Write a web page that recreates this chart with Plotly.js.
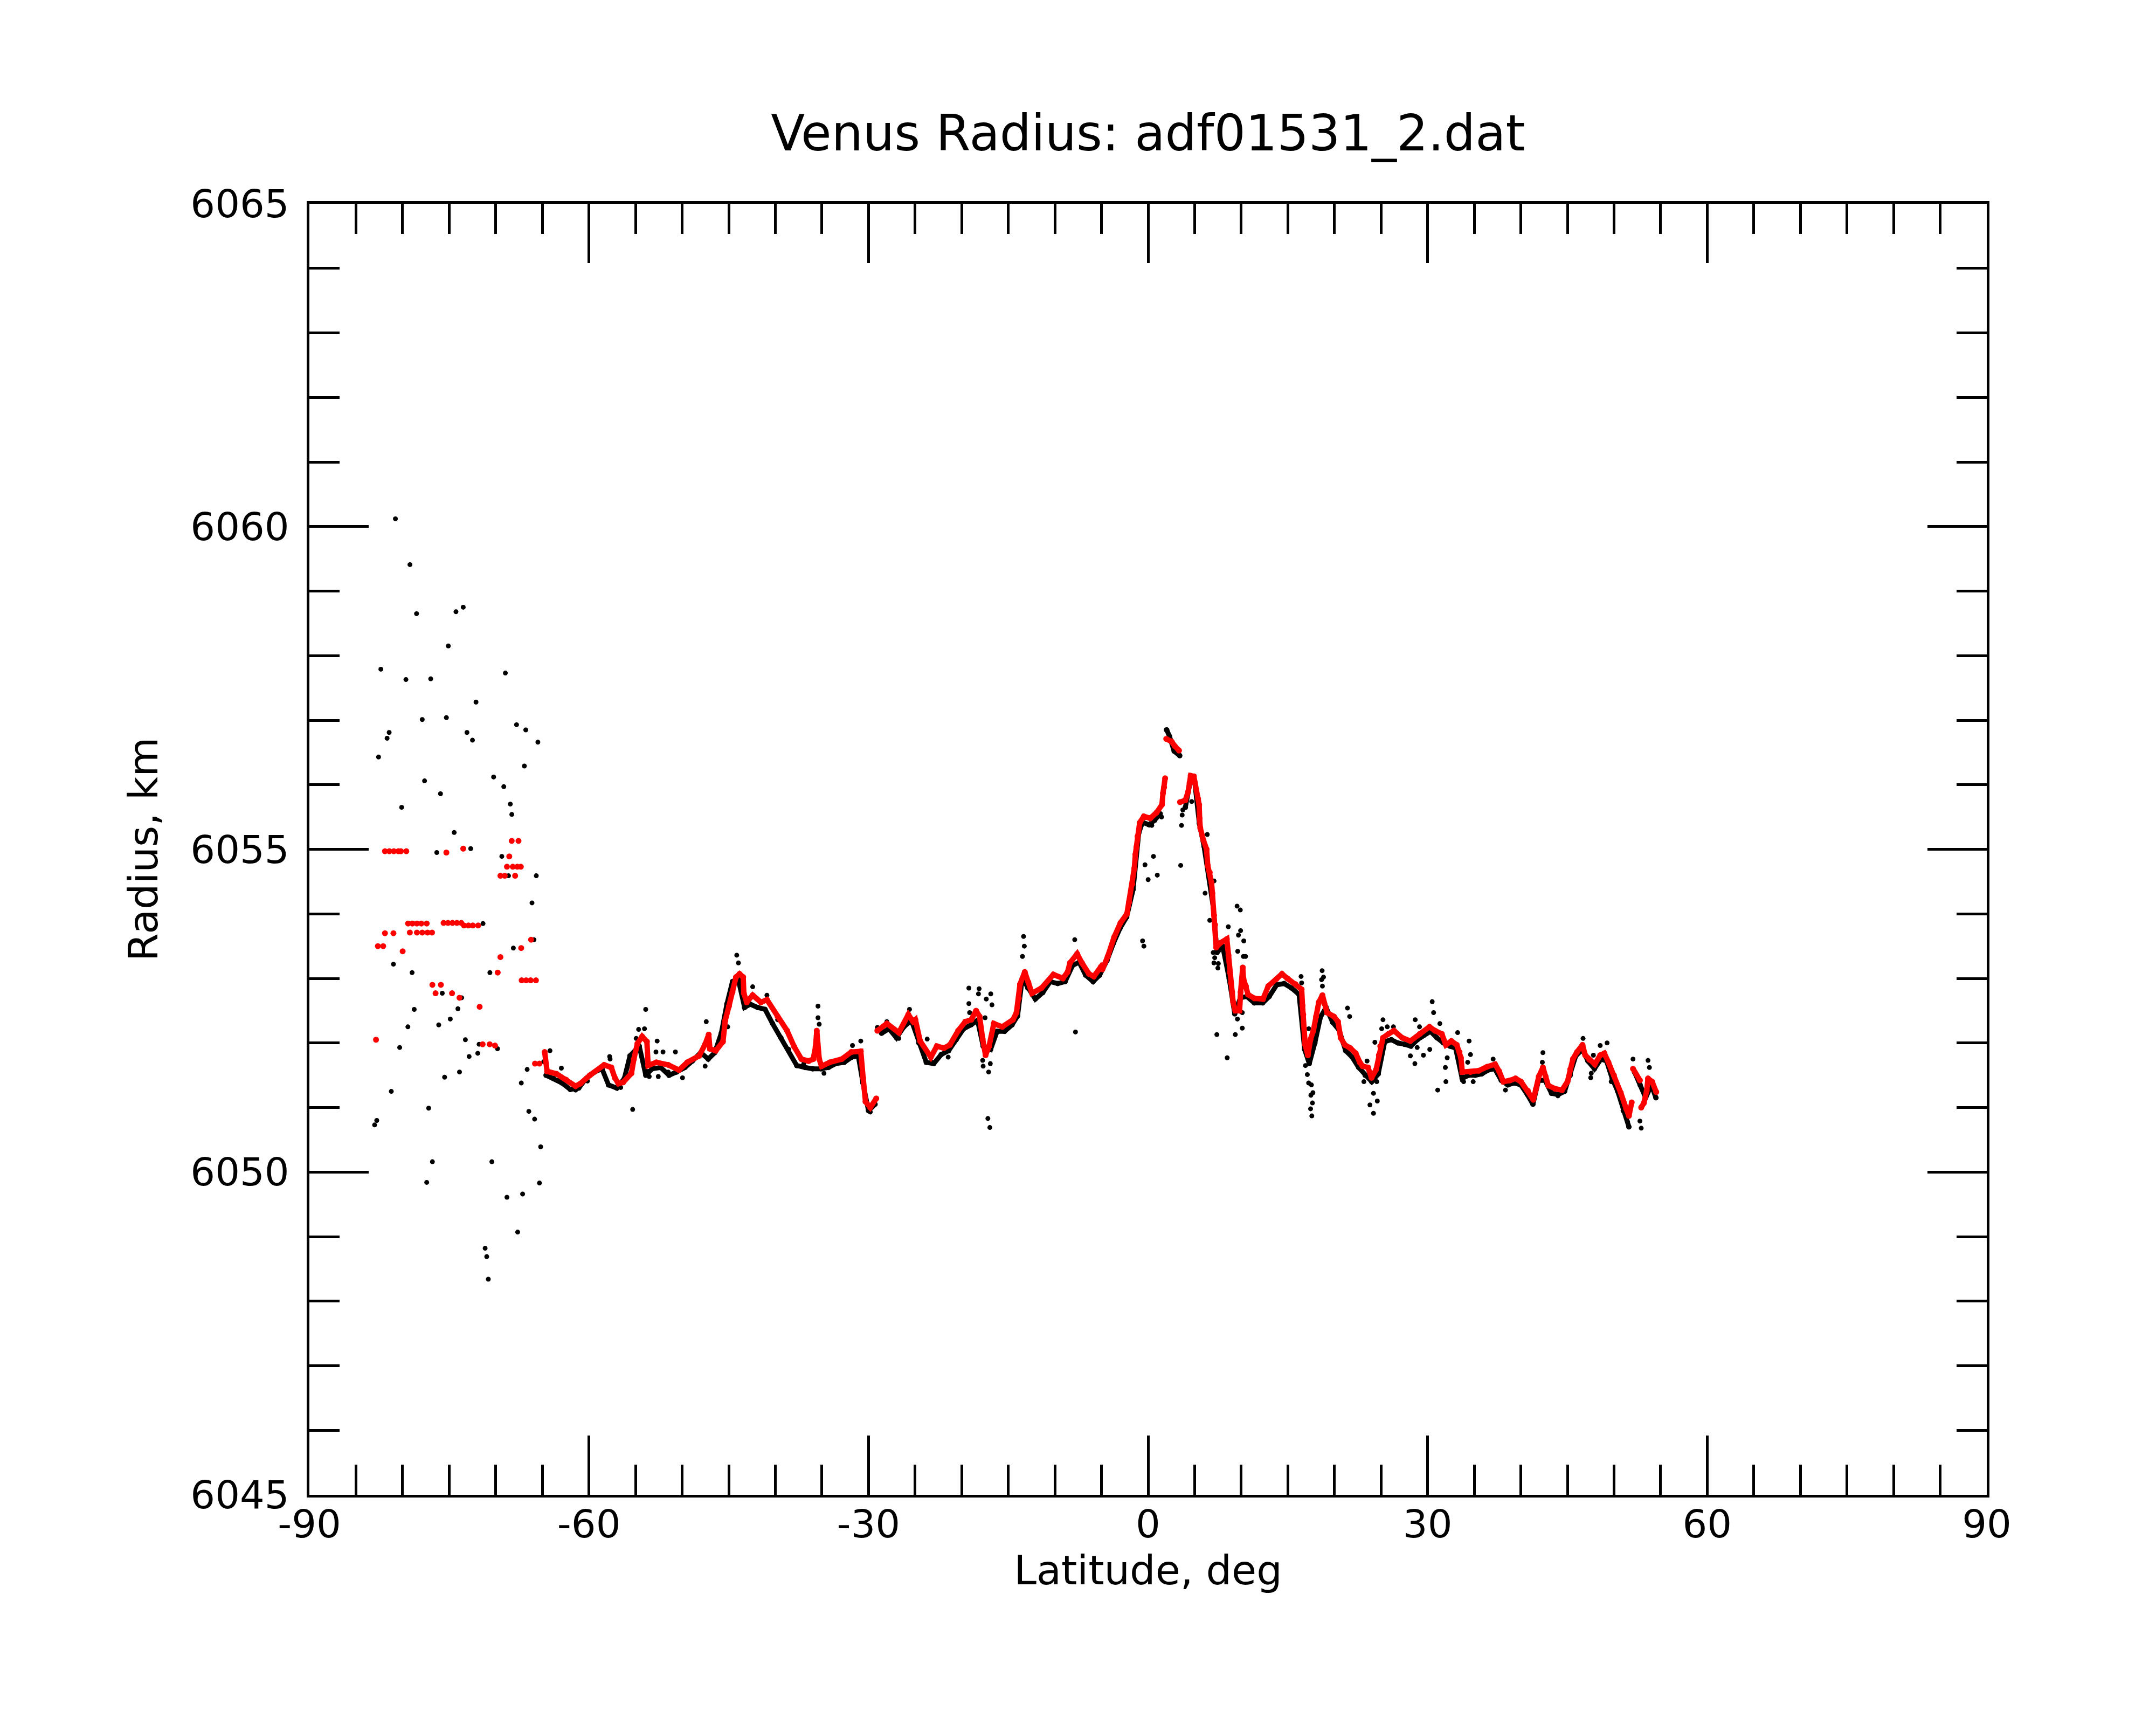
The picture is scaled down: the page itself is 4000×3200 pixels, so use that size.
<!DOCTYPE html>
<html>
<head>
<meta charset="utf-8">
<script src="https://cdn.plot.ly/plotly-3.0.1.min.js"></script>
<style>
  html, body { margin: 0; padding: 0; background: #ffffff; }
  #chart_div { width: 4000px; height: 3200px; }
</style>
</head>
<body>
<div id="chart_div"></div>
<script>
// red samples, polar part (short flat runs)
var redPolarLat = [-81.89,-81.42,-80.94,-80.46,-80.18,-79.6,-75.30,-73.49,-68.29,-67.56,-68.55,
  -68.8,-68.17,-67.69,-67.31,-69.5,-69.03,-67.92,-79.41,-78.94,-78.46,-77.99,-77.41,
  -79.22,-78.46,-77.89,-77.32,-76.84,-81.89,-80.98,-82.65,-82.08,-79.99,
  -75.6,-75.13,-74.65,-74.17,-73.7,-73.41,-72.93,-72.46,-71.89,-69.5,-69.79,-67.27,-66.21,
  -67.22,-66.74,-66.26,-65.69,-76.8,-75.89,-76.46,-74.69,-73.89,-71.73,-82.85,
  -71.41,-70.65,-70.08,-65.79,-65.31];
var redPolarRad = [6054.97,6054.97,6054.97,6054.97,6054.97,6054.97,6054.95,6055.01,6055.13,6055.13,6054.89,
  6054.73,6054.73,6054.73,6054.73,6054.59,6054.59,6054.59,6053.85,6053.85,6053.85,6053.85,6053.85,
  6053.71,6053.71,6053.71,6053.71,6053.71,6053.70,6053.70,6053.5,6053.5,6053.42,
  6053.86,6053.86,6053.86,6053.86,6053.86,6053.82,6053.82,6053.82,6053.82,6053.33,6053.09,6053.47,6053.6,
  6052.97,6052.97,6052.97,6052.97,6052.9,6052.9,6052.77,6052.77,6052.7,6052.56,6052.05,
  6051.98,6051.98,6051.96,6051.68,6051.68];

// red samples, main track (null = gap in the track)
var redLat = [-64.75,-64.49,-63.47,-62.45,-61.43,-60.92,-59.9,-58.37,-57.6,-57.22,-56.84,-56.33,-55.44,
  -55.18,-54.8,-54.29,-53.78,-53.65,-52.76,-51.49,-50.34,-49.45,-48.17,-47.53,-47.15,-47.02,-46.39,
  -45.62,-45.37,-44.98,-44.6,-44.22,-43.84,-43.45,-43.38,-43.07,-42.43,-41.54,-40.9,-39.76,-38.74,
  -37.97,-37.2,-36.44,-35.93,-35.68,-35.55,-35.29,-35.04,-34.15,-32.87,-31.85,-30.83,-30.58,-30.32,
  -29.81,-29.17,null,-29.05,-28.03,-26.75,-25.73,-25.22,
  -24.97,-24.46,-23.31,-22.67,-21.91,-21.27,-20.38,-19.61,-18.97,-18.46,-18.08,-17.75,-17.44,-17.06,
  -16.55,-15.65,-14.5,-14.12,-13.87,-13.74,-13.23,-12.85,-12.46,-11.44,-10.16,-9.14,-8.63,-8.38,
  -7.61,-7.1,-6.34,-5.82,-5.06,
  -4.9,-4.33,-3.64,-2.96,-2.27,-2.04,-1.7,-1.47,-1.36,-1.25,-1.13,-0.9,-0.45,0.24,0.92,1.49,1.6,
  1.72,1.83,null,1.95,2.52,2.86,3.32,null,3.43,4.0,4.3,4.46,4.57,4.91,5.03,5.37,5.48,5.53,5.6,5.94,
  6.28,6.4,6.62,6.81,6.9,7.08,7.19,7.31,7.76,8.45,8.63,8.79,8.9,9.02,9.13,9.36,9.82,9.93,10.16,
  10.23,10.5,10.73,11.41,12.33,
  12.9,13.78,14.37,14.95,15.83,16.48,16.57,16.65,16.86,17.15,17.44,17.74,18.03,18.32,18.71,18.91,
  19.2,19.94,20.38,20.67,21.11,21.7,22.28,22.72,23.02,23.6,23.98,24.48,24.77,24.92,25.21,25.8,
  26.39,27.27,28.15,29.17,30.2,30.79,31.52,31.96,32.54,33.13,33.42,33.57,33.72,34.6,35.48,36.36,
  37.24,37.68,38.12,38.85,39.43,40.02,40.75,41.34,41.63,41.93,42.37,42.66,42.95,43.69,44.42,45.01,
  45.3,45.59,46.03,46.62,46.91,47.35,47.94,48.52,48.96,49.4,49.99,50.72,51.31,51.6,51.9,null,
  52.04,52.78,null,52.92,53.21,53.51,53.65,54.09,54.53];
var redRad = [6051.86,6051.56,6051.52,6051.43,6051.33,6051.37,6051.5,6051.66,6051.62,6051.46,6051.37,6051.39,6051.53,
  6051.75,6051.99,6052.1,6052.02,6051.65,6051.7,6051.66,6051.58,6051.7,6051.8,6051.98,6052.13,6051.91,6051.88,
  6052.02,6052.35,6052.57,6052.79,6053.02,6053.07,6053.02,6052.77,6052.63,6052.74,6052.63,6052.67,6052.41,6052.19,
  6051.94,6051.75,6051.72,6051.75,6051.94,6052.19,6051.75,6051.64,6051.70,6051.75,6051.86,6051.87,6051.46,6051.09,
  6051.0,6051.14,null,6052.19,6052.3,6052.16,6052.44,6052.33,
  6052.36,6052.03,6051.78,6051.95,6051.92,6051.97,6052.19,6052.33,6052.36,6052.5,6052.41,6052.06,6051.81,6051.95,
  6052.3,6052.25,6052.36,6052.47,6052.69,6052.91,6053.1,6052.94,6052.77,6052.85,6053.06,6053.0,6053.1,6053.24,
  6053.38,6053.24,6053.07,6053.03,6053.18,
  6053.14,6053.34,6053.64,6053.86,6054.0,6054.18,6054.46,6054.71,6054.92,6055.03,6055.2,6055.41,6055.51,6055.48,6055.57,6055.69,6055.87,
  6055.96,6056.1,null,6056.71,6056.67,6056.6,6056.53,null,6055.73,6055.76,6055.89,6056.03,6056.14,6056.13,6056.03,6055.78,6055.69,6055.48,6055.33,6055.14,
  6055.0,6054.75,6054.64,6054.48,6054.32,6053.98,6053.83,6053.48,6053.55,6053.61,6053.36,6053.09,6052.93,6052.79,6052.63,6052.5,6052.5,6052.79,6053.17,
  6053.0,6052.88,6052.75,6052.69,6052.68,
  6052.88,6052.99,6053.07,6053.0,6052.91,6052.83,6052.58,6052.44,6051.97,6051.81,6052.06,6052.19,6052.41,6052.63,6052.74,6052.61,
  6052.47,6052.41,6052.33,6052.08,6051.97,6051.92,6051.84,6051.7,6051.64,6051.62,6051.46,6051.59,6051.81,6051.95,6052.08,6052.14,
  6052.19,6052.08,6052.03,6052.14,6052.25,6052.19,6052.14,6051.97,6052.03,6051.97,6051.86,6051.77,6051.55,6051.55,6051.57,6051.63,
  6051.67,6051.56,6051.4,6051.42,6051.45,6051.4,6051.26,6051.12,6051.29,6051.48,6051.62,6051.48,6051.34,6051.29,6051.27,6051.4,
  6051.59,6051.75,6051.86,6051.97,6051.81,6051.74,6051.67,6051.81,6051.84,6051.7,6051.5,6051.23,6050.98,6050.87,6051.08,null,
  6051.6,6051.42,null,6051.0,6051.07,6051.26,6051.45,6051.4,6051.24];

// black samples along the track
var blackLat = [-64.6,-63.8,-62.9,-62.0,-61.1,-60.3,-59.4,-58.6,-57.9,-57.0,-56.2,-55.6,-54.6,-53.9,-53.2,
  -52.3,-51.4,-50.6,-49.7,-48.9,-48.0,-47.2,-46.5,-45.8,-45.2,-44.6,-44.0,-43.3,-42.7,-41.9,-41.1,
  -40.3,-39.4,-38.6,-37.7,-36.8,-36.0,-35.1,-34.3,-33.5,-32.6,-31.8,-31.1,-30.6,-30.0,-29.3,null,
  -28.6,-27.8,-27.0,-26.2,-25.4,-24.6,-23.8,-23.0,-22.2,-21.4,-20.6,-19.8,-19.0,-18.3,-17.7,-16.9,
  -16.2,-15.4,-14.6,-14.0,-13.5,-12.9,-12.1,-11.3,-10.5,-9.7,-8.9,-8.1,-7.4,-6.7,-5.9,-5.2,-4.4,
  -3.7,-3.0,-2.3,-1.6,-1.0,-0.6,0.1,0.7,1.3,null,2.0,2.3,2.8,3.4,null,4.0,4.6,5.0,5.5,6.0,6.5,7.0,
  7.4,8.0,8.7,9.3,9.9,10.6,11.4,12.3,13.0,13.8,14.6,15.4,16.2,16.8,17.3,17.9,18.5,19.1,19.8,20.5,
  21.2,21.9,22.6,23.3,24.0,24.7,25.4,26.1,26.8,27.5,28.2,28.9,29.6,30.3,31.0,31.7,32.4,33.0,33.7,
  34.4,35.1,35.8,36.5,37.2,37.9,38.6,39.3,40.0,40.7,41.3,41.9,42.6,43.3,44.0,44.7,45.3,45.9,46.6,
  47.2,47.9,48.6,49.2,49.8,50.4,51.0,51.6,null,52.2,52.8,53.4,54.0,54.5];
var blackRad = [6051.5,6051.45,6051.38,6051.28,6051.3,6051.45,6051.55,6051.6,6051.35,6051.3,6051.45,6051.8,6051.95,6051.5,6051.6,
  6051.62,6051.5,6051.55,6051.62,6051.72,6051.85,6051.75,6051.85,6052.15,6052.6,6052.95,6053.0,6052.55,6052.6,6052.55,6052.52,
  6052.3,6052.08,6051.9,6051.65,6051.62,6051.6,6051.6,6051.62,6051.68,6051.7,6051.78,6051.8,6051.38,6050.95,6051.05,null,
  6052.15,6052.22,6052.08,6052.25,6052.35,6052.0,6051.7,6051.68,6051.82,6051.88,6052.05,6052.22,6052.28,6052.35,6051.95,6051.9,
  6052.18,6052.18,6052.28,6052.42,6053.0,6052.85,6052.68,6052.78,6052.95,6052.92,6052.95,6053.2,6053.25,6053.05,6052.95,6053.05,6053.28,
  6053.55,6053.78,6053.95,6054.38,6055.25,6055.42,6055.38,6055.45,6055.55,null,6056.85,6056.75,6056.52,6056.45,null,6055.65,6056.1,6056.05,6055.4,6055.05,6054.6,6054.1,
  6053.4,6053.5,6053.0,6052.45,6052.7,6052.72,6052.62,6052.62,6052.72,6052.9,6052.92,6052.85,6052.75,6051.9,6051.68,6052.0,6052.4,6052.55,6052.32,6052.2,
  6051.88,6051.78,6051.62,6051.5,6051.4,6051.52,6052.02,6052.05,6052.0,6051.98,6051.95,6052.05,6052.12,6052.18,6052.08,6052.0,6051.95,6051.92,6051.45,
  6051.5,6051.5,6051.52,6051.58,6051.6,6051.42,6051.35,6051.38,6051.35,6051.2,6051.05,6051.42,6051.42,6051.22,6051.2,6051.25,6051.5,6051.8,6051.9,
  6051.72,6051.6,6051.75,6051.72,6051.45,6051.25,6050.95,6050.7,null,6051.55,6051.35,6051.15,6051.35,6051.15];

// black samples off the track (scattered returns)
var blackOutLat = [-80.77,-79.21,-78.5,-74.27,-73.49,-75.09,-82.33,-79.64,-76.98,-68.97,-72.12,-77.89,-75.3,
  -73.09,-72.5,-81.44,-81.66,-82.58,-67.77,-66.78,-65.48,-66.93,-70.23,-69.14,-77.64,-75.93,-68.44,
  -68.28,-80.1,-74.46,-76.33,-72.69,-69.35,-68.63,-65.65,-66.11,-71.37,-68.11,-65.9,-80.98,-78.98,
  -70.63,-75.74,-73.66,-78.75,-74.06,-79.43,-76.12,-74.88,-73.26,-80.31,-72.86,-71.93,-71.79,-69.81,
  -64.85,-66.63,-75.49,-73.89,-67.26,-81.21,-77.2,-82.77,-83.0,-66.45,-65.83,-65.18,-76.8,-70.42,
  -77.41,-68.8,-67.12,-65.31,-67.65,-71.14,-70.97,-70.8,
  -64.18,-62.96,-63.09,-61.43,-60.16,-57.78,-57.73,-56.59,-55.31,-53.91,-54.67,-54.04,-54.93,-52.68,
  -52.81,-52.05,-50.72,-53.53,-52.56,-53.65,-51.49,-49.96,-47.53,-47.41,-45.11,-45.11,-44.14,-43.96,
  -42.43,-40.9,-39.75,-36.95,-35.42,-35.42,-35.29,-34.78,-30.83,-31.72,-29.81,-29.68,-29.05,-28.03,
  -26.75,-25.6,
  -23.7,-21.45,-23.18,-19.23,-18.13,-18.2,-16.88,-19.23,-17.36,-16.75,-19.15,-17.49,-17.75,-17.7,
  -16.93,-17.11,-17.19,-16.98,-13.36,-13.28,-13.48,-7.87,-7.79,-0.59,
  -0.45,-0.33,0.58,0.01,0.99,3.5,3.59,3.66,3.73,0.4,1.45,4.68,6.12,7.08,6.35,6.62,7.15,7.54,7.49,
  7.38,8.49,8.61,9.9,9.93,10.27,10.23,10.46,10.11,9.59,9.36,10.11,9.55,9.7,9.62,6.99,7.07,1.95,
  16.48,17.23,17.69,17.64,17.57,16.89,18.83,18.71,21.63,23.5,24.19,24.6,24.76,23.16,25.67,29.13,
  29.77,28.63,29.55,30.23,
  18.68,18.62,16.42,21.4,17.24,17.09,17.53,17.47,17.44,24.19,23.81,24.54,24.34,25.21,25.07,26.33,
  28.67,30.49,30.64,31.31,28.15,28.88,31.08,31.9,31.96,32.1,33.22,34.45,34.6,34.3,33.86,34.89,37.03,
  42.37,42.31,38.35,43.98,46.68,49.26,48.52,47.56,47.5,47.79,49.7,51.46,52.78,52.92,52.04,53.65,
  53.8,52.63];
var blackOutRad = [6060.12,6059.41,6058.65,6058.68,6058.75,6058.15,6057.79,6057.63,6057.64,6057.73,6057.28,6057.01,6057.04,
  6056.81,6056.69,6056.81,6056.72,6056.43,6056.93,6056.85,6056.66,6056.29,6056.12,6055.97,6056.06,6055.86,6055.70,
  6055.54,6055.65,6055.26,6054.95,6055.01,6054.89,6054.59,6054.59,6054.17,6053.85,6053.47,6053.60,6053.22,6053.09,
  6053.09,6052.77,6052.70,6052.52,6052.53,6052.25,6052.28,6052.37,6052.05,6051.93,6051.79,6051.84,6051.98,6051.91,
  6051.71,6051.59,6051.47,6051.55,6051.38,6051.25,6050.99,6050.80,6050.73,6050.94,6050.82,6050.39,6050.16,6050.16,
  6049.84,6049.61,6049.66,6049.83,6049.07,6048.82,6048.69,6048.34,
  6051.88,6051.61,6051.45,6051.27,6051.41,6051.79,6051.75,6051.31,6050.97,6052.52,6052.21,6052.22,6052.07,6052.03,
  6051.86,6051.86,6051.86,6051.48,6051.48,6051.56,6051.55,6051.46,6051.64,6052.33,6052.62,6052.25,6053.36,6053.24,
  6052.87,6052.74,6052.36,6051.68,6052.57,6052.39,6052.29,6051.53,6052.03,6051.96,6050.93,6051.01,6052.24,6052.33,
  6052.07,6052.52,
  6052.06,6051.78,6051.7,6052.85,6052.84,6052.76,6052.76,6052.61,6052.68,6052.59,6052.47,6052.39,6051.73,6051.64,
  6051.68,6051.55,6050.83,6050.69,6053.65,6053.5,6053.34,6053.6,6052.17,6053.58,
  6053.5,6054.76,6054.89,6054.53,6054.6,6054.75,6055.37,6055.53,6055.61,6055.37,6055.5,6055.74,6054.32,6054.51,6055.23,6053.9,6053.32,6053.23,6053.16,
  6052.13,6051.77,6053.8,6054.06,6053.74,6053.58,6053.34,6053.34,6052.47,6052.37,6052.13,6052.23,6054.12,6053.67,6053.42,6053.4,6053.24,6056.85,
  6052.93,6051.38,6051.23,6051.07,6050.87,6051.65,6053.02,6052.88,6052.41,6051.72,6050.91,6051.1,6051.78,6051.4,6052.25,6052.25,
  6052.16,6051.68,6051.81,6051.9,
  6053.12,6052.98,6053.03,6052.54,6052.22,6051.51,6051.35,6051.19,6050.98,6051.22,6051.04,6051.4,6052.01,6052.36,6052.22,6052.25,
  6052.36,6052.64,6052.47,6052.3,6051.8,6051.93,6051.27,6051.62,6051.4,6051.77,6052.16,6052.03,6051.82,6051.7,6051.4,6051.4,6051.75,
  6051.85,6051.7,6051.27,6051.18,6052.07,6052.0,6051.96,6051.53,6051.46,6051.81,6051.4,6050.78,6050.79,6050.68,6051.75,6051.73,
  6051.62,6051.41];

var xTickVals = [-90,-60,-30,0,30,60,90];
var xTickText = ['-90','-60','-30','0','30','60','90'];
var yTickVals = [6045,6050,6055,6060,6065];
var yTickText = ['6045','6050','6055','6060','6065'];

var data = [
  {x: blackOutLat, y: blackOutRad, mode: 'markers', type: 'scatter',
   marker: {color: '#000000', size: 9}},
  {x: blackLat, y: blackRad, mode: 'lines+markers', type: 'scatter', connectgaps: false,
   line: {color: '#000000', width: 9}, marker: {color: '#000000', size: 10}},
  {x: redPolarLat, y: redPolarRad, mode: 'markers', type: 'scatter',
   marker: {color: '#ff0000', size: 11}},
  {x: redLat, y: redRad, mode: 'lines+markers', type: 'scatter', connectgaps: false,
   line: {color: '#ff0000', width: 10}, marker: {color: '#ff0000', size: 11}}
];

var tickFont = {family: 'DejaVu Sans', size: 72, color: '#000000'};
var axisTitleFont = {family: 'DejaVu Sans', size: 75, color: '#000000'};

var layout = {
  width: 4000,
  height: 3200,
  showlegend: false,
  paper_bgcolor: '#ffffff',
  plot_bgcolor: '#ffffff',
  margin: {l: 574, r: 314, t: 378, b: 427},
  font: {family: 'DejaVu Sans', color: '#000000'},
  title: {
    text: 'Venus Radius: adf01531_2.dat',
    font: {family: 'DejaVu Sans', size: 92, color: '#000000'},
    x: 0.5, xanchor: 'center', xref: 'paper',
    y: 0.923, yanchor: 'middle', yref: 'container'
  },
  xaxis: {
    range: [-90, 90],
    showgrid: false, zeroline: false,
    showline: true, linecolor: '#000000', linewidth: 5, mirror: 'ticks',
    tickmode: 'array', tickvals: xTickVals, ticktext: xTickText,
    ticks: 'inside', ticklen: 110, tickwidth: 5, tickcolor: '#000000',
    tickfont: tickFont, ticklabelstandoff: -12,
    minor: {tickmode: 'linear', tick0: -90, dtick: 5, ticks: 'inside', ticklen: 56, tickwidth: 5, tickcolor: '#000000'},
    title: {text: 'Latitude, deg', font: axisTitleFont, standoff: 2}
  },
  yaxis: {
    range: [6045, 6065],
    showgrid: false, zeroline: false,
    showline: true, linecolor: '#000000', linewidth: 5, mirror: 'ticks',
    tickmode: 'array', tickvals: yTickVals, ticktext: yTickText,
    ticks: 'inside', ticklen: 110, tickwidth: 5, tickcolor: '#000000',
    tickfont: tickFont, ticklabelstandoff: 18,
    minor: {tickmode: 'linear', tick0: 6045, dtick: 1, ticks: 'inside', ticklen: 56, tickwidth: 5, tickcolor: '#000000'},
    title: {text: 'Radius, km', font: axisTitleFont, standoff: 38}
  }
};

Plotly.newPlot('chart_div', data, layout, {displayModeBar: false, staticPlot: true});
</script>
</body>
</html>
